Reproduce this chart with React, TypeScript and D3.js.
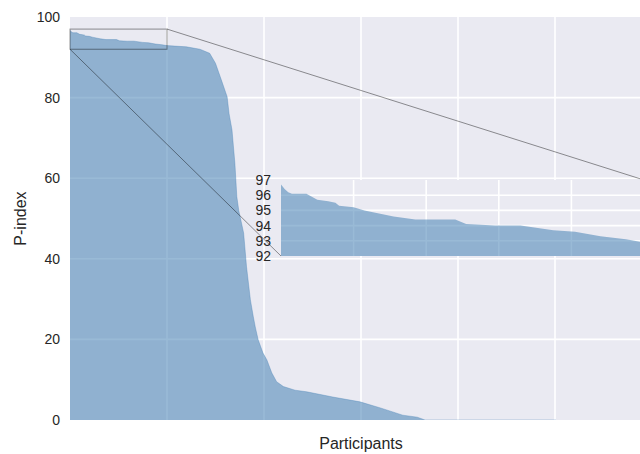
import * as d3 from 'd3'

// participant rank (sorted by score) and the P-index
const ranks = [0, 1, 2, 3, 7, 10, 13, 15, 16, 20, 23, 27, 31, 37, 48, 51, 59, 66, 75, 81, 88, 95, 100, 120, 134, 144, 150, 156, 162, 164, 167, 170, 172, 174, 179, 182, 186, 189, 191, 194, 199, 203, 208, 213, 220, 232, 244, 271, 299, 320, 343, 358, 366, 501]
const pIndex = [96.7, 96.4, 96.2, 96.1, 96.1, 95.7, 95.6, 95.5, 95.3, 95.2, 95.0, 94.8, 94.6, 94.4, 94.4, 94.1, 94.0, 94.0, 93.7, 93.6, 93.3, 93.1, 92.9, 92.6, 92.0, 91.0, 88.5, 84.4, 80.2, 76.0, 72.0, 63.7, 55.4, 52.0, 46.4, 38.0, 29.8, 25.6, 23.1, 19.9, 16.6, 14.9, 11.7, 9.5, 8.3, 7.4, 7.0, 5.7, 4.5, 3.0, 1.2, 0.7, 0, 0]

const yTicks = [0, 20, 40, 60, 80, 100]
const xGrid = [100, 200, 300, 400, 500]
const insetYTicks = [92, 93, 94, 95, 96, 97]
const insetXGrid = [20, 40, 60, 80]
const zoomX: [number, number] = [0, 100]
const zoomY: [number, number] = [92, 97]

const W = 640
const H = 454
const BG = '#EAEAF2'
const TXT = '#262626'
const FILL = '#4682b4'
const FONT = '"Liberation Sans", Arial, sans-serif'

export default function App() {
  const data = ranks.map((r, i) => ({ r, v: pIndex[i] }))

  const x = d3.scaleLinear().domain([0, 600]).range([70, 652])
  const y = d3.scaleLinear().domain([0, 100]).range([420, 17])

  const ix = d3.scaleLinear().domain(zoomX).range([281, 644])
  const iy = d3.scaleLinear().domain(zoomY).range([256, 180])

  const area = d3.area<{ r: number; v: number }>()
    .x(d => x(d.r))
    .y0(y(0))
    .y1(d => y(d.v))
  const line = d3.line<{ r: number; v: number }>()
    .x(d => x(d.r))
    .y(d => y(d.v))

  const insetArea = d3.area<{ r: number; v: number }>()
    .x(d => ix(d.r))
    .y0(iy(zoomY[0]))
    .y1(d => iy(d.v))

  const [x0, x1] = x.range()
  const [y0, y1] = y.range()

  return (
    <svg width={W} height={H} style={{ position: 'absolute', left: 0, top: 0, fontFamily: FONT }}>
      <defs>
        <clipPath id="main-clip">
          <rect x={x0} y={y1} width={x1 - x0} height={y0 - y1} />
        </clipPath>
        <clipPath id="inset-clip">
          <rect x={ix(zoomX[0])} y={iy(zoomY[1])} width={ix(zoomX[1]) - ix(zoomX[0])} height={iy(zoomY[0]) - iy(zoomY[1])} />
        </clipPath>
      </defs>

      {/* main axes */}
      <rect x={x0} y={y1} width={x1 - x0} height={y0 - y1} fill={BG} />
      <g stroke="#fff" strokeWidth={1.6}>
        {yTicks.slice(1, -1).map(t => (
          <line key={t} x1={x0} x2={x1} y1={y(t)} y2={y(t)} />
        ))}
        {xGrid.map(t => (
          <line key={t} x1={x(t)} x2={x(t)} y1={y1} y2={y0} />
        ))}
      </g>
      <g clipPath="url(#main-clip)">
        <path d={area(data) ?? ''} fill={FILL} fillOpacity={0.55} />
        <path d={line(data) ?? ''} fill="none" stroke={FILL} strokeOpacity={0.35} strokeWidth={1} />
      </g>
      {yTicks.map(t => (
        <text key={t} x={60} y={y(t)} dy="0.35em" textAnchor="end" fontSize={14} fill={TXT}>{t}</text>
      ))}
      <text transform={`translate(26,${(y0 + y1) / 2}) rotate(-90)`} textAnchor="middle" fontSize={16} fill={TXT}>P-index</text>
      <text x={(x0 + 652) / 2} y={449} textAnchor="middle" fontSize={16} fill={TXT}>Participants</text>

      {/* zoom box and connectors */}
      <g fill="none" stroke="#000" strokeOpacity={0.42} strokeWidth={1}>
        <rect x={x(zoomX[0])} y={y(zoomY[1])} width={x(zoomX[1]) - x(zoomX[0])} height={y(zoomY[0]) - y(zoomY[1])} />
        <line x1={x(zoomX[1])} y1={y(zoomY[1])} x2={ix(zoomX[1])} y2={iy(zoomY[1])} />
        <line x1={x(zoomX[0])} y1={y(zoomY[0])} x2={ix(zoomX[0])} y2={iy(zoomY[0])} />
      </g>

      {/* inset axes */}
      <rect x={ix(zoomX[0])} y={iy(zoomY[1])} width={ix(zoomX[1]) - ix(zoomX[0])} height={iy(zoomY[0]) - iy(zoomY[1])} fill={BG} />
      <g stroke="#fff" strokeWidth={1.6}>
        {insetYTicks.slice(1, -1).map(t => (
          <line key={t} x1={ix(zoomX[0])} x2={ix(zoomX[1])} y1={iy(t)} y2={iy(t)} />
        ))}
        {insetXGrid.map(t => (
          <line key={t} x1={ix(t)} x2={ix(t)} y1={iy(zoomY[1])} y2={iy(zoomY[0])} />
        ))}
      </g>
      <g clipPath="url(#inset-clip)">
        <path d={insetArea(data) ?? ''} fill={FILL} fillOpacity={0.55} />
      </g>
      {insetYTicks.map(t => (
        <text key={t} x={271} y={iy(t)} dy="0.35em" textAnchor="end" fontSize={14} fill={TXT}>{t}</text>
      ))}
    </svg>
  )
}
